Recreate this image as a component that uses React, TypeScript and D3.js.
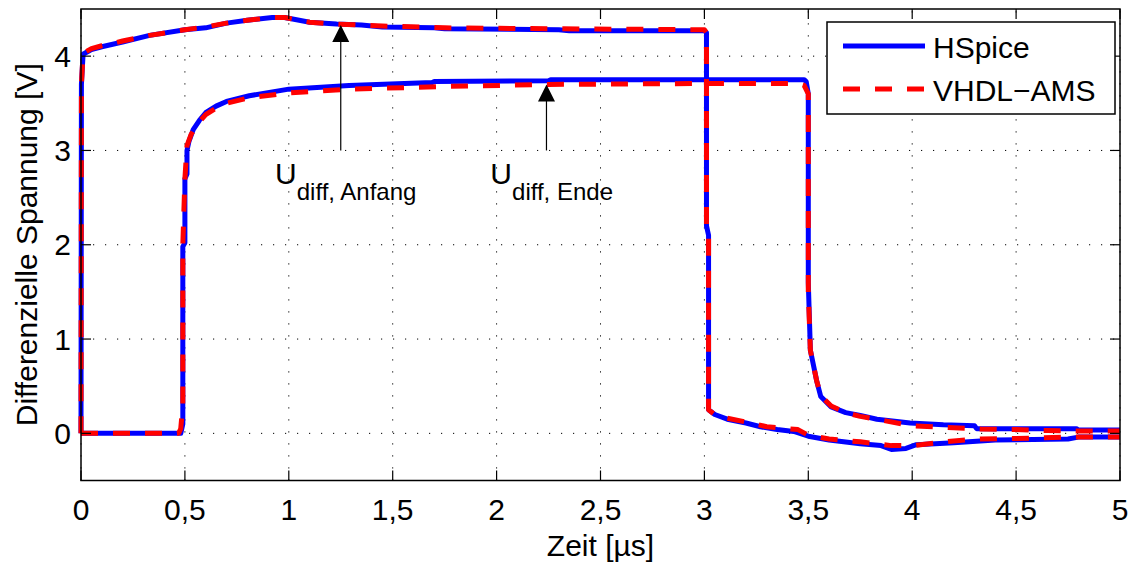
import React from 'react';
import * as d3 from 'd3';

type Pt = [number, number];

// HSpice: Kurve 1 (Sprung bei 0 µs) und Kurve 2 (Sprung bei 0,5 µs)
const hspiceKurve1: Pt[] = [
  [0, 0], [0.002, 3.7], [0.01, 4.02], [0.05, 4.07], [0.1, 4.1], [0.2, 4.15], [0.33, 4.22], [0.5, 4.28],
  [0.6, 4.3], [0.7, 4.35], [0.8, 4.38], [0.92, 4.41], [0.98, 4.41], [1.05, 4.38], [1.1, 4.36], [1.23, 4.34],
  [1.35, 4.33], [1.45, 4.31], [1.7, 4.3], [1.75, 4.29], [2.3, 4.28], [2.35, 4.27], [3.0, 4.27], [3.01, 4.25],
  [3.01, 2.2], [3.02, 2.1], [3.02, 0.25], [3.05, 0.2], [3.11, 0.15], [3.2, 0.11], [3.27, 0.07], [3.35, 0.04],
  [3.43, 0.02], [3.5, -0.03], [3.6, -0.07], [3.75, -0.11], [3.85, -0.13], [3.9, -0.17], [3.97, -0.16],
  [4.02, -0.12], [4.2, -0.1], [4.4, -0.07], [4.75, -0.06], [4.8, -0.04], [5, -0.04],
];
const hspiceKurve2: Pt[] = [
  [0, 0], [0.48, 0], [0.49, 0.1], [0.49, 1.98], [0.5, 2.02], [0.5, 2.7], [0.51, 2.75], [0.51, 3.0],
  [0.52, 3.1], [0.54, 3.22], [0.57, 3.32], [0.6, 3.4], [0.65, 3.47], [0.7, 3.52], [0.81, 3.58], [1.0, 3.65],
  [1.29, 3.69], [1.69, 3.72], [1.7, 3.73], [2.25, 3.74], [2.26, 3.75], [3.48, 3.75], [3.49, 3.73], [3.5, 3.6],
  [3.5, 1.6], [3.51, 0.88], [3.54, 0.56], [3.56, 0.39], [3.61, 0.28], [3.68, 0.22], [3.75, 0.19],
  [3.83, 0.15], [3.99, 0.11], [4.15, 0.09], [4.3, 0.08], [4.31, 0.05], [4.79, 0.05], [4.8, 0.035], [5, 0.035],
];

// VHDL-AMS
const vhdlKurve1: Pt[] = [
  [0, 0], [0.002, 3.7], [0.01, 4.03], [0.05, 4.08], [0.1, 4.11], [0.2, 4.16], [0.33, 4.22], [0.5, 4.28],
  [0.6, 4.31], [0.7, 4.35], [0.8, 4.38], [0.92, 4.41], [0.98, 4.41], [1.05, 4.38], [1.1, 4.36], [1.23, 4.34],
  [1.45, 4.32], [1.75, 4.3], [2.3, 4.29], [3.0, 4.28], [3.01, 4.25], [3.01, 2.2], [3.02, 2.1], [3.02, 0.25],
  [3.05, 0.2], [3.11, 0.16], [3.2, 0.12], [3.3, 0.07], [3.45, 0.04], [3.5, -0.02], [3.6, -0.06],
  [3.75, -0.09], [3.9, -0.13], [4.0, -0.13], [4.2, -0.08], [4.33, -0.06], [4.6, -0.05], [4.75, -0.04],
  [5, -0.04],
];
const vhdlKurve2: Pt[] = [
  [0, 0], [0.47, 0], [0.48, 0.05], [0.49, 0.3], [0.49, 2.0], [0.5, 2.7], [0.51, 3.05], [0.53, 3.17],
  [0.56, 3.28], [0.6, 3.38], [0.65, 3.45], [0.7, 3.5], [0.81, 3.56], [1.0, 3.61], [1.29, 3.65], [1.78, 3.68],
  [2.25, 3.7], [3.0, 3.71], [3.45, 3.71], [3.48, 3.69], [3.5, 3.6], [3.5, 1.5], [3.51, 0.88], [3.54, 0.56],
  [3.56, 0.4], [3.61, 0.29], [3.68, 0.22], [3.75, 0.18], [3.83, 0.15], [4.0, 0.08], [4.2, 0.06],
  [4.33, 0.045], [4.5, 0.04], [4.65, 0.03], [4.8, 0.025], [5, 0.025],
];

const xTicks = [0, 0.5, 1, 1.5, 2, 2.5, 3, 3.5, 4, 4.5, 5];
const yTicks = [0, 1, 2, 3, 4];

const legendNames = ['HSpice', 'VHDL\u2212AMS'];

// Pfeile zu den Messpunkten
const pfeile = [
  { x: 1.25, von: 3.0, bis: 4.33 },
  { x: 2.24, von: 3.0, bis: 3.7 },
];
const beschriftungen = [
  { x: 0.934, y: 2.64, sub: 'diff, Anfang' },
  { x: 1.97, y: 2.64, sub: 'diff, Ende' },
];

const W = 1136;
const H = 563;
const font = 'Liberation Sans, Arial, Helvetica, sans-serif';

const App = () => {
  const x = d3.scaleLinear().domain([0, 5]).range([81, 1120]);
  const y = d3.scaleLinear().domain([-0.5, 4.5]).range([480.5, 9]);
  const [x0, x1] = x.range();
  const [y0, y1] = y.range();

  const line = d3.line<Pt>()
    .x(d => x(d[0]))
    .y(d => y(d[1]));

  const fmt = (v: number) => String(v).replace('.', ',');

  return (
    <svg width={W} height={H} style={{ position: 'absolute', left: 0, top: 0, background: '#fff' }}
      fontFamily={font}>
      <rect x={0} y={0} width={W} height={H} fill="#fff" />

      {/* Gitter */}
      <g stroke="#000" strokeWidth={1} strokeDasharray="1.2,10.8" fill="none">
        {xTicks.map(t => (
          <line key={'gx' + t} x1={x(t)} x2={x(t)} y1={y0} y2={y1} />
        ))}
        {yTicks.map(t => (
          <line key={'gy' + t} x1={x0} x2={x1} y1={y(t)} y2={y(t)} />
        ))}
      </g>

      {/* Kurven */}
      <g fill="none" strokeLinejoin="round">
        {[hspiceKurve1, hspiceKurve2].map((d, i) => (
          <path key={'h' + i} d={line(d) || ''} stroke="#0000ff" strokeWidth={5} />
        ))}
        {[vhdlKurve1, vhdlKurve2].map((d, i) => (
          <path key={'v' + i} d={line(d) || ''} stroke="#ff0000" strokeWidth={5} strokeDasharray="17,15" />
        ))}
      </g>

      {/* Pfeile */}
      {pfeile.map((p, i) => {
        const px = x(p.x);
        const tip = y(p.bis);
        return (
          <g key={'p' + i}>
            <line x1={px} x2={px} y1={y(p.von)} y2={tip + 10} stroke="#000" strokeWidth={1.2} />
            <path d={`M${px},${tip} L${px - 8.5},${tip + 17} L${px + 8.5},${tip + 17} Z`} fill="#000" />
          </g>
        );
      })}

      {beschriftungen.map((b, i) => (
        <text key={'b' + i} x={x(b.x)} y={y(b.y)} fontSize={30} fill="#000">
          U
          <tspan fontSize={24} dy={16}>{b.sub}</tspan>
        </text>
      ))}

      {/* Achsenrahmen */}
      <rect x={x0} y={y1} width={x1 - x0} height={y0 - y1} fill="none" stroke="#000" strokeWidth={1.5} />
      <g stroke="#000" strokeWidth={1.2}>
        {xTicks.map(t => (
          <g key={'tx' + t}>
            <line x1={x(t)} x2={x(t)} y1={y0} y2={y0 - 10} />
            <line x1={x(t)} x2={x(t)} y1={y1} y2={y1 + 10} />
          </g>
        ))}
        {yTicks.map(t => (
          <g key={'ty' + t}>
            <line x1={x0} x2={x0 + 10} y1={y(t)} y2={y(t)} />
            <line x1={x1} x2={x1 - 10} y1={y(t)} y2={y(t)} />
          </g>
        ))}
      </g>

      {/* Achsenbeschriftung */}
      <g fontSize={30} fill="#000">
        {xTicks.map(t => (
          <text key={'lx' + t} x={x(t)} y={y0 + 39} textAnchor="middle">{fmt(t)}</text>
        ))}
        {yTicks.map(t => (
          <text key={'ly' + t} x={x0 - 10} y={y(t)} textAnchor="end" dominantBaseline="central">{fmt(t)}</text>
        ))}
        <text x={(x0 + x1) / 2} y={556} textAnchor="middle">Zeit [µs]</text>
        <text transform={`translate(37,${(y0 + y1) / 2}) rotate(-90)`} textAnchor="middle">
          Differenzielle Spannung [V]
        </text>
      </g>

      {/* Legende */}
      <g>
        <rect x={827} y={22} width={288} height={92} fill="#fff" stroke="#000" strokeWidth={1.5} />
        <line x1={843} x2={925} y1={46} y2={46} stroke="#0000ff" strokeWidth={5} />
        <line x1={843} x2={925} y1={89} y2={89} stroke="#ff0000" strokeWidth={5} strokeDasharray="17,15" />
        {legendNames.map((n, i) => (
          <text key={n} x={933} y={47 + i * 43} fontSize={30} dominantBaseline="central" fill="#000">{n}</text>
        ))}
      </g>
    </svg>
  );
};

export default App;
